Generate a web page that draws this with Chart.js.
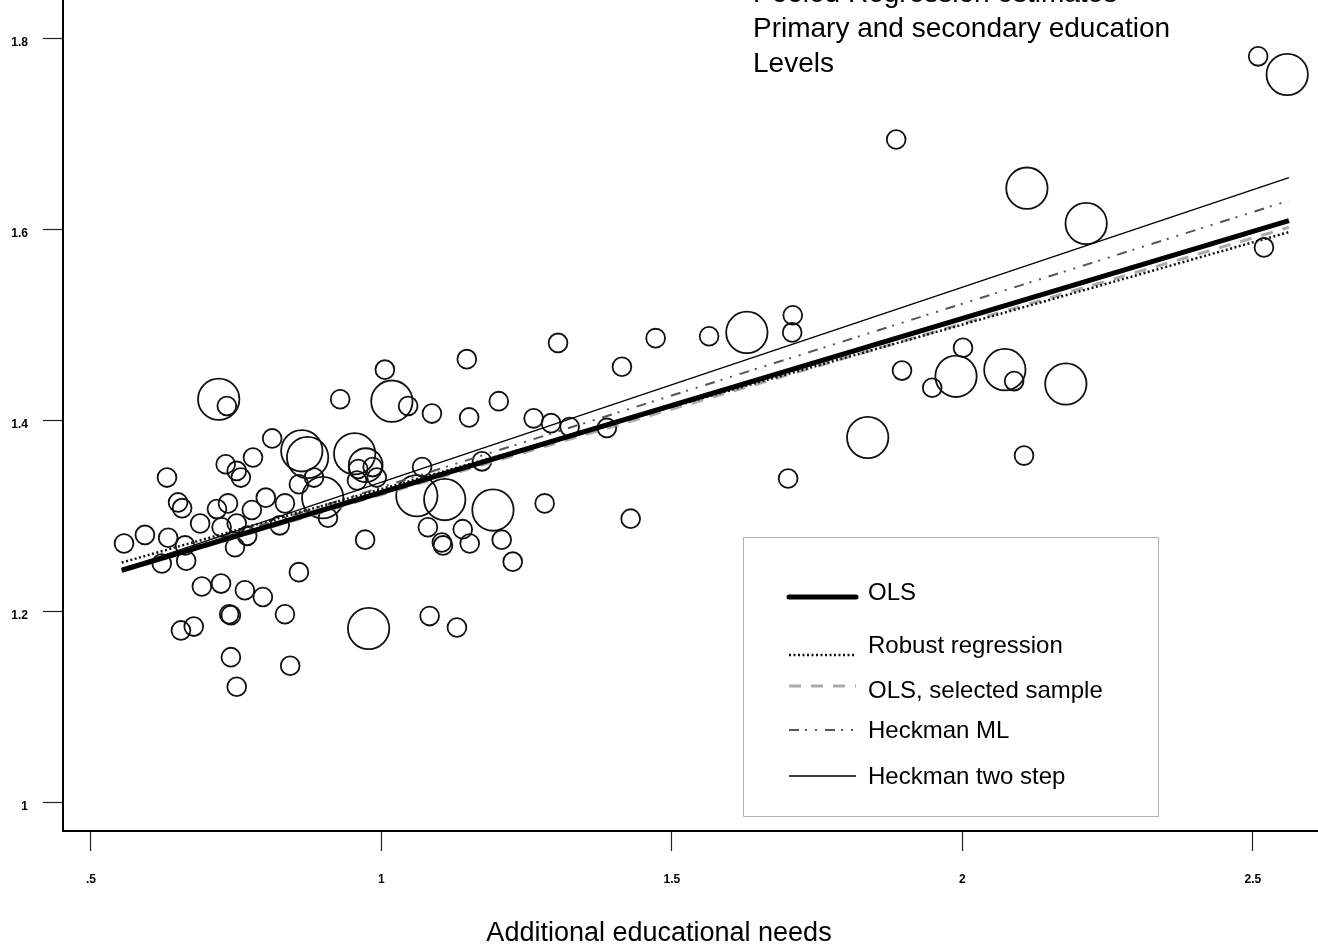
<!DOCTYPE html>
<html>
<head>
<meta charset="utf-8">
<title>Regression estimates</title>
<script src="https://cdn.jsdelivr.net/npm/chart.js@4.4.0/dist/chart.umd.min.js"></script>
<style>
  html, body { margin: 0; padding: 0; background: #fff; }
  #wrap { position: relative; width: 1318px; height: 949px; }
</style>
</head>
<body>
<div id="wrap"><canvas id="chart"></canvas></div>
<script>
// ---- data ----
const titleLines = ['Pooled Regression estimates', 'Primary and secondary education', 'Levels'];
const xTitle = 'Additional educational needs';

const xTicks = [0.5, 1, 1.5, 2, 2.5];
const xTickLabels = ['.5', '1', '1.5', '2', '2.5'];
const yTicks = [1, 1.2, 1.4, 1.6, 1.8];
const yTickLabels = ['1', '1.2', '1.4', '1.6', '1.8'];

// municipalities: additional needs (x), spending (y), relative weight (bubble size)
const needs = [
  0.720, 0.734, 0.929, 1.006, 1.147, 1.018, 1.046, 1.087, 1.151, 1.202,
  1.262, 0.812, 0.863, 0.873, 0.954, 0.973, 0.779, 0.732, 0.751, 0.758,
  0.631, 0.884, 0.858, 0.899, 0.960, 0.985, 0.958, 0.992, 1.070, 1.061,
  1.109, 1.192, 0.650, 0.657, 0.736, 0.717, 0.777, 0.801, 0.834, 0.688,
  0.725, 0.751, 0.769, 0.557, 0.593, 0.633, 0.662, 0.622, 0.664, 0.748,
  0.825, 0.908, 0.972, 1.080, 1.104, 1.106, 1.140, 1.152, 1.207, 1.226,
  0.858, 0.691, 0.724, 0.765, 0.796, 0.834, 0.738, 0.741, 0.655, 0.677,
  0.978, 1.083, 1.130, 0.741, 0.843, 0.751, 1.173, 2.509, 2.559, 1.886,
  2.111, 2.213, 2.519, 1.304, 1.472, 1.414, 1.564, 1.629, 1.708, 1.707,
  1.292, 1.324, 1.388, 2.001, 1.896, 1.989, 1.948, 2.073, 2.089, 1.837,
  2.106, 1.700, 1.281, 1.429, 2.178
];
const spending = [
  1.422, 1.415, 1.422, 1.453, 1.464, 1.420, 1.415, 1.407, 1.403, 1.420,
  1.402, 1.381, 1.368, 1.361, 1.365, 1.353, 1.361, 1.354, 1.347, 1.340,
  1.340, 1.340, 1.333, 1.319, 1.349, 1.351, 1.337, 1.340, 1.351, 1.321,
  1.317, 1.306, 1.314, 1.308, 1.313, 1.307, 1.306, 1.319, 1.313, 1.292,
  1.288, 1.292, 1.279, 1.271, 1.280, 1.277, 1.269, 1.250, 1.253, 1.267,
  1.290, 1.298, 1.275, 1.288, 1.272, 1.269, 1.286, 1.271, 1.275, 1.252,
  1.241, 1.226, 1.229, 1.222, 1.215, 1.197, 1.197, 1.196, 1.180, 1.184,
  1.182, 1.195, 1.183, 1.152, 1.143, 1.121, 1.357, 1.781, 1.762, 1.694,
  1.643, 1.606, 1.581, 1.481, 1.486, 1.456, 1.488, 1.492, 1.510, 1.492,
  1.397, 1.393, 1.392, 1.476, 1.452, 1.446, 1.434, 1.453, 1.441, 1.382,
  1.363, 1.339, 1.313, 1.297, 1.438
];
const weights = [
  2.2, 1, 1, 1, 1, 2.2, 1, 1, 1, 1,
  1, 1, 2.2, 2.2, 2.2, 1.8, 1, 1, 1, 1,
  1, 1, 1, 2.2, 1, 1, 1, 1, 1, 2.2,
  2.2, 2.2, 1, 1, 1, 1, 1, 1, 1, 1,
  1, 1, 1, 1, 1, 1, 1, 1, 1, 1,
  1, 1, 1, 1, 1, 1, 1, 1, 1, 1,
  1, 1, 1, 1, 1, 1, 1, 1, 1, 1,
  2.2, 1, 1, 1, 1, 1, 1, 1, 2.2, 1,
  2.2, 2.2, 1, 1, 1, 1, 1, 2.2, 1, 1,
  1, 1, 1, 1, 1, 2.2, 1, 2.2, 1, 2.2,
  1, 1, 1, 1, 2.2
];

// fitted lines, evaluated at the two ends of the x range
const fitX = [0.553, 2.562];
const olsFit = [1.243, 1.609];
const robustFit = [1.251, 1.597];
const selectedFit = [1.242, 1.602];
const heckmanMLFit = [1.244, 1.630];
const heckmanTwoStepFit = [1.244, 1.654];

const seriesNames = ['OLS', 'Robust regression', 'OLS, selected sample', 'Heckman ML', 'Heckman two step'];

// ---- chart ----
const FONT = '"Liberation Sans", Arial, Helvetica, sans-serif';
const toPts = ys => fitX.map((x, i) => ({ x: x, y: ys[i] }));

function fitLine(label, ys, color, width, dash) {
  return {
    type: 'line', label: label, data: toPts(ys),
    borderColor: color, borderWidth: width, borderDash: dash,
    borderCapStyle: 'butt', pointRadius: 0, fill: false, tension: 0
  };
}

const overlay = {
  id: 'overlay',
  afterDraw(chart) {
    const ctx = chart.ctx;
    ctx.save();
    ctx.fillStyle = '#000';

    // title block at top right
    ctx.font = '28px ' + FONT;
    ctx.textAlign = 'left';
    ctx.textBaseline = 'alphabetic';
    titleLines.forEach((t, i) => ctx.fillText(t, 753, 2 + i * 35));

    // x axis title
    ctx.font = '27px ' + FONT;
    ctx.textAlign = 'center';
    ctx.fillText(xTitle, 659, 941);

    // legend box
    ctx.strokeStyle = '#666';
    ctx.lineWidth = 1;
    ctx.setLineDash([1, 1]);
    ctx.strokeRect(743.5, 537.5, 415, 279);

    const textY = [593, 646, 691, 731, 777];
    const sampleY = [597, 655, 686, 730, 776];
    ctx.font = '24px ' + FONT;
    ctx.textAlign = 'left';
    ctx.textBaseline = 'middle';
    chart.data.datasets.filter(d => d.type === 'line').forEach((d, i) => {
      ctx.strokeStyle = d.borderColor;
      ctx.lineWidth = d.borderWidth;
      ctx.setLineDash(d.borderDash || []);
      ctx.lineCap = d.borderWidth > 3 ? 'round' : 'butt';
      ctx.beginPath();
      ctx.moveTo(789, sampleY[i]);
      ctx.lineTo(856, sampleY[i]);
      ctx.stroke();
      ctx.setLineDash([]);
      ctx.fillText(d.label, 868, textY[i]);
    });
    ctx.restore();
  }
};

new Chart(document.getElementById('chart'), {
  type: 'bubble',
  data: {
    datasets: [
      fitLine(seriesNames[0], olsFit, '#000', 5, []),
      fitLine(seriesNames[1], robustFit, '#111', 2.5, [2, 2.5]),
      fitLine(seriesNames[2], selectedFit, 'rgba(150,150,150,0.8)', 3, [12, 10]),
      fitLine(seriesNames[3], heckmanMLFit, '#555', 2, [10, 6, 2, 8, 2, 8]),
      fitLine(seriesNames[4], heckmanTwoStepFit, '#000', 1.3, []),
      {
        type: 'bubble',
        label: 'municipalities',
        data: needs.map((x, i) => ({ x: x, y: spending[i] })),
        radius: ctx => 9.4 * weights[ctx.dataIndex],
        backgroundColor: 'rgba(0,0,0,0)',
        borderColor: '#111',
        borderWidth: 1.8
      }
    ]
  },
  options: {
    responsive: true,
    maintainAspectRatio: false,
    animation: false,
    layout: { padding: 0, autoPadding: false },
    plugins: { legend: { display: false }, tooltip: { enabled: false } },
    scales: {
      x: {
        type: 'linear', min: 0.452, max: 2.612,
        afterFit: s => { s.height = 118; s.paddingLeft = 0; s.paddingRight = 0; },
        afterBuildTicks: s => { s.ticks = xTicks.map(v => ({ value: v })); },
        ticks: {
          callback: (v, i) => xTickLabels[i],
          font: { family: FONT, size: 12, weight: 'bold' }, color: '#000',
          padding: 21, maxRotation: 0, autoSkip: false
        },
        grid: { drawOnChartArea: false, drawTicks: true, tickLength: 20, tickWidth: 1.2, color: '#222' },
        border: { display: true, color: '#000', width: 2 }
      },
      y: {
        type: 'linear', min: 0.97, max: 1.84,
        afterFit: s => { s.width = 63; s.paddingTop = 0; s.paddingBottom = 0; },
        afterBuildTicks: s => { s.ticks = yTicks.map(v => ({ value: v })); },
        ticks: {
          callback: (v, i) => yTickLabels[i],
          font: { family: FONT, size: 12, weight: 'bold' }, color: '#000',
          padding: 15, labelOffset: 4, autoSkip: false
        },
        grid: { drawOnChartArea: false, drawTicks: true, tickLength: 20, tickWidth: 1.2, color: '#222' },
        border: { display: true, color: '#000', width: 2 }
      }
    }
  },
  plugins: [overlay]
});
</script>
</body>
</html>
